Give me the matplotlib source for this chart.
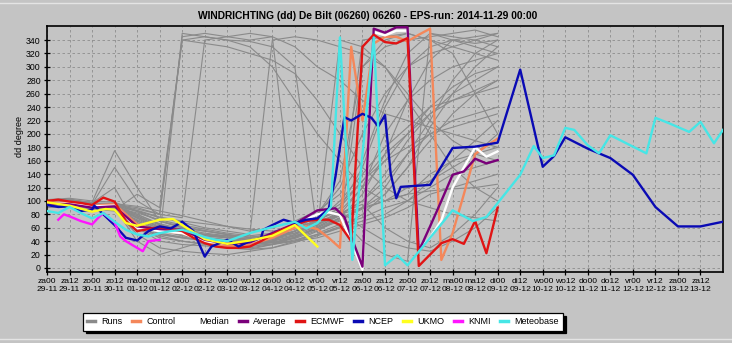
import matplotlib
matplotlib.use("Agg")
import matplotlib.pyplot as plt
from matplotlib.lines import Line2D

# ---------------- data ----------------
tick_labels = ["za00\n29-11", "za12\n29-11", "zo00\n30-11", "zo12\n30-11", "ma00\n01-12", "ma12\n01-12",
               "di00\n02-12", "di12\n02-12", "wo00\n03-12", "wo12\n03-12", "do00\n04-12", "do12\n04-12",
               "vr00\n05-12", "vr12\n05-12", "za00\n06-12", "za12\n06-12", "zo00\n07-12", "zo12\n07-12",
               "ma00\n08-12", "ma12\n08-12", "di00\n09-12", "di12\n09-12", "wo00\n10-12", "wo12\n10-12",
               "do00\n11-12", "do12\n11-12", "vr00\n12-12", "vr12\n12-12", "za00\n13-12", "za12\n13-12"]
yticks = list(range(0, 341, 20))

# ensemble runs: 12-hourly, forecast steps 0..20 (x 12h)
run_steps = list(range(21))
runs = [
    [95, 98, 92, 88, 60, 50, 45, 40, 35, 30, 35, 45, 60, 80, 120, 200, 250, 280, 300, 310, 320],
    [100, 102, 96, 92, 75, 60, 50, 45, 40, 38, 42, 55, 70, 90, 150, 240, 300, 330, 340, 335, 340],
    [92, 95, 90, 86, 110, 90, 340, 345, 340, 330, 300, 250, 200, 160, 120, 100, 110, 140, 160, 170, 180],
    [98, 100, 95, 150, 100, 80, 345, 350, 345, 340, 345, 60, 70, 80, 90, 100, 120, 130, 150, 170, 200],
    [90, 92, 88, 85, 50, 30, 25, 22, 20, 25, 30, 40, 50, 60, 70, 80, 100, 130, 160, 190, 220],
    [102, 104, 100, 98, 85, 70, 60, 55, 50, 45, 50, 60, 80, 120, 200, 260, 300, 320, 330, 340, 350],
    [95, 97, 93, 90, 70, 55, 50, 48, 45, 40, 40, 48, 58, 70, 90, 110, 150, 190, 230, 260, 280],
    [96, 99, 94, 95, 90, 80, 340, 335, 330, 320, 310, 290, 250, 200, 150, 120, 100, 90, 80, 75, 70],
    [93, 95, 90, 88, 65, 45, 40, 35, 30, 28, 35, 50, 70, 100, 140, 180, 210, 240, 250, 260, 270],
    [97, 100, 95, 92, 80, 65, 55, 50, 48, 42, 38, 40, 45, 55, 65, 75, 90, 110, 120, 130, 140],
    [100, 101, 98, 175, 120, 70, 60, 55, 50, 40, 35, 40, 55, 75, 110, 170, 250, 310, 340, 345, 350],
    [94, 96, 92, 90, 40, 20, 30, 40, 38, 35, 40, 55, 80, 130, 300, 340, 350, 340, 330, 320, 310],
    [98, 98, 94, 92, 78, 60, 52, 48, 45, 42, 45, 55, 65, 80, 100, 130, 170, 200, 210, 220, 230],
    [95, 99, 93, 91, 82, 72, 64, 58, 52, 48, 52, 62, 75, 95, 130, 160, 180, 200, 220, 230, 240],
    [91, 94, 90, 87, 60, 40, 35, 33, 30, 28, 30, 38, 48, 60, 80, 110, 150, 210, 260, 300, 330],
    [99, 103, 97, 120, 60, 45, 350, 345, 340, 338, 330, 300, 52, 65, 75, 90, 100, 120, 140, 150, 160],
    [96, 98, 95, 93, 85, 75, 68, 60, 55, 50, 340, 345, 340, 330, 320, 300, 260, 220, 190, 170, 160],
    [94, 97, 91, 88, 72, 58, 52, 46, 42, 40, 42, 50, 62, 78, 340, 345, 350, 340, 320, 260, 200],
    [97, 100, 96, 94, 88, 80, 75, 340, 345, 350, 345, 330, 300, 280, 250, 230, 220, 210, 200, 190, 180],
    [93, 95, 92, 89, 68, 50, 45, 42, 40, 36, 38, 44, 56, 72, 88, 100, 110, 115, 118, 120, 125],
    [100, 100, 97, 96, 92, 85, 78, 70, 62, 55, 60, 70, 85, 110, 160, 250, 320, 350, 345, 340, 330],
    [92, 95, 90, 86, 62, 48, 40, 36, 34, 32, 36, 46, 60, 340, 330, 300, 250, 200, 150, 120, 100],
    [98, 101, 95, 92, 76, 62, 55, 50, 46, 44, 46, 52, 66, 82, 95, 60, 40, 30, 50, 80, 120],
    [95, 97, 93, 90, 74, 58, 50, 45, 42, 38, 40, 48, 60, 75, 40, 20, 10, 350, 340, 330, 320],
    [96, 99, 94, 92, 86, 76, 70, 66, 62, 58, 55, 60, 70, 90, 130, 170, 200, 230, 250, 265, 280],
    [94, 96, 92, 89, 70, 56, 48, 44, 40, 36, 35, 42, 50, 62, 300, 330, 340, 345, 350, 355, 345],
    [97, 100, 95, 93, 80, 66, 58, 52, 48, 46, 48, 55, 65, 85, 120, 160, 200, 240, 270, 290, 300],
    [99, 102, 96, 94, 84, 70, 62, 56, 50, 46, 50, 58, 72, 85, 60, 40, 30, 25, 40, 60, 90],
    [92, 94, 91, 88, 66, 52, 46, 42, 38, 36, 38, 46, 58, 74, 90, 120, 170, 220, 280, 320, 340],
    [95, 98, 93, 91, 78, 64, 56, 50, 46, 42, 44, 52, 64, 80, 100, 140, 190, 230, 260, 280, 300],
]

control_t = [0, 1, 2, 3, 4, 5, 6, 7, 8, 9, 10, 11, 11.5, 12, 12.5, 13, 13.5, 14, 14.5, 15, 15.5, 16, 16.5, 17, 17.5, 18, 18.5, 19, 19.5, 20]
control_v = [98, 97, 93, 95, 65, 55, 52, 40, 33, 35, 45, 60, 62, 58, 45, 30, 330, 220, 335, 345, 345, 338, 348, 357, 12, 52, 110, 170, 182, 193]

median_t = [0, 1, 2, 3, 4, 5, 6, 7, 8, 9, 10, 11, 12, 12.5, 13, 13.5, 14, 14.5, 15, 15.5, 16, 16.5, 17, 17.5, 18, 18.5, 19, 19.5, 20]
median_v = [96, 96, 92, 93, 60, 55, 52, 40, 36, 38, 50, 64, 80, 83, 79, 40, -3, 352, 347, 354, 354, 27, 45, 71, 120, 150, 180, 166, 174]

average_t = [0, 1, 2, 3, 4, 5, 6, 7, 8, 9, 10, 11, 12, 12.8, 13.2, 13.5, 14, 14.5, 15, 15.5, 16, 16.5, 17, 17.5, 18, 18.5, 19, 19.5, 20]
average_v = [96, 95, 90, 92, 62, 58, 57, 42, 36, 38, 52, 66, 86, 89, 76, 47, 2, 357, 351, 359, 359, 25, 62, 100, 139, 144, 163, 156, 161]

ecmwf_t = [0, 0.5, 1, 1.5, 2, 2.5, 3, 3.5, 4, 4.5, 5, 5.5, 6, 6.5, 7, 7.5, 8, 8.5, 9, 9.5, 10, 10.5, 11, 11.5, 12, 12.5, 13, 13.5, 14, 14.5, 15, 15.5, 16, 16.5, 17, 17.5, 18, 18.5, 19, 19.5, 20]
ecmwf_v = [100, 102, 99, 97, 94, 105, 99, 70, 55, 58, 61, 58, 55, 45, 37, 32, 30, 30, 32, 40, 50, 58, 64, 70, 72, 72, 64, 40, 330, 348, 337, 335, 343, 3, 20, 37, 43, 36, 70, 22, 90]

ncep_t = [0, 0.5, 1, 1.5, 2, 2.1, 2.5, 3, 3.5, 4, 4.5, 5, 5.5, 6, 6.5, 7, 7.3, 8, 8.5, 9, 9.5, 9.6, 10, 10.5, 11, 11.5, 12, 12.5, 12.8, 13.2, 13.5, 14, 14.4, 14.7, 15, 15.25, 15.5, 15.7, 17, 18, 19, 20, 21, 22, 22.5, 23, 24, 25, 26, 27, 28, 29, 30]
ncep_v = [94, 91, 92, 85, 87, 93, 80, 64, 45, 41, 55, 62, 59, 69, 55, 17, 32, 42, 32, 40, 45, 57, 64, 72, 67, 72, 74, 88, 136, 225, 220, 230, 224, 211, 228, 141, 104, 121, 124, 179, 181, 187, 296, 151, 167, 195, 178, 164, 139, 91, 62, 62, 69]

ukmo_t = [0, 1, 2, 2.6, 3, 3.5, 4, 5, 5.6, 6, 7, 8, 9, 10, 11, 12]
ukmo_v = [98, 93, 84, 88, 87, 67, 63, 72, 73, 64, 43, 36, 41, 48, 64, 32]

knmi_t = [0.5, 0.75, 1, 1.5, 2, 2.25, 2.5, 3, 3.25, 3.5, 4, 4.25, 4.5, 5]
knmi_v = [72, 80, 77, 70, 65, 74, 82, 68, 47, 40, 30, 25, 40, 42]

meteo_t = [0, 0.5, 1, 1.5, 2, 2.5, 3, 3.5, 4, 4.5, 5, 5.5, 6, 6.5, 7, 7.5, 8, 8.5, 9, 10, 11, 11.5, 12, 12.6, 13, 13.55, 14.5, 15, 15.55, 16, 17, 18, 18.9, 19.5, 20.1, 21, 21.6, 22, 22.5, 23, 23.4, 24, 24.5, 25, 26.6, 27, 27.6, 28.5, 29, 29.6, 30]
meteo_v = [85, 82, 91, 82, 74, 82, 69, 57, 50, 47, 52, 55, 57, 52, 46, 42, 40, 46, 52, 61, 69, 59, 67, 91, 344, 12, 344, 4, 19, 4, 45, 86, 70, 76, 101, 139, 182, 164, 168, 209, 206, 183, 171, 198, 171, 224, 216, 203, 218, 186, 206]

# ---------------- plot ----------------
BG = "#c4c4c4"
FONT = ["Liberation Sans Narrow", "Liberation Sans", "DejaVu Sans"]
plt.rcParams["font.family"] = FONT

fig = plt.figure(figsize=(7.32, 3.43), dpi=100, facecolor=BG)
ax = fig.add_axes([47 / 732, 1 - 272 / 343, 676 / 732, 246 / 343])
ax.set_facecolor(BG)

for r in runs:
    ax.plot(run_steps, r, color="#8a8a8a", lw=0.8, zorder=2)

series = [
    (control_t, control_v, "#f4875a", "Control"),
    (median_t, median_v, "#ffffff", "Median"),
    (average_t, average_v, "#7a007a", "Average"),
    (ecmwf_t, ecmwf_v, "#e01414", "ECMWF"),
    (ncep_t, ncep_v, "#0a0ab4", "NCEP"),
    (ukmo_t, ukmo_v, "#ffff1e", "UKMO"),
    (knmi_t, knmi_v, "#ff14ff", "KNMI"),
    (meteo_t, meteo_v, "#46e6e6", "Meteobase"),
]
for i, (t, v, c, lab) in enumerate(series):
    ax.plot(t, v, color=c, lw=1.7, zorder=3 + i)

ax.set_xlim(0, 30)
ax.set_ylim(-6, 361)
ax.set_xticks(range(len(tick_labels)))
ax.set_xticklabels(tick_labels, fontsize=6.1, linespacing=1.1)
ax.set_yticks(yticks)
ax.set_yticklabels([str(y) for y in yticks], fontsize=6.3)
ax.tick_params(axis="both", direction="inout", length=5, width=0.9, color="black", pad=2)
ax.grid(True, color="#8c8c8c", lw=0.6, linestyle=(0, (3, 3)))
ax.set_axisbelow(True)
for s in ax.spines.values():
    s.set_linewidth(1.2)
    s.set_color("black")

ax.set_ylabel("dd degree", fontsize=6.5)
ax.yaxis.set_label_coords(-0.034, 0.55)

fig.text(368 / 732, 1 - 16 / 343, "WINDRICHTING (dd) De Bilt (06260) 06260 - EPS-run: 2014-11-29 00:00",
         ha="center", va="center", fontsize=7.4, fontweight="bold", family=["Liberation Sans", "DejaVu Sans"])

handles = [Line2D([], [], color="#8a8a8a", lw=2.5)] + [Line2D([], [], color=c, lw=2.5) for (_, _, c, _) in series]
labels = ["Runs"] + [s[3] for s in series]
leg = fig.legend(handles, labels, ncol=9, loc="center", bbox_to_anchor=(323 / 732, 1 - 322 / 343),
                 fontsize=6.5, frameon=True, fancybox=False, shadow={"color": "black", "alpha": 1},
                 edgecolor="black", facecolor="white", framealpha=1, handlelength=0.9,
                 handletextpad=0.7, columnspacing=1.05, borderpad=0.45)
leg.get_frame().set_linewidth(0.9)

fig.add_artist(Line2D([0, 1], [1 - 3 / 343, 1 - 3 / 343], color="#e4e4e4", lw=1))
fig.add_artist(Line2D([0, 1], [1 - 339 / 343, 1 - 339 / 343], color="#e4e4e4", lw=1))

fig.savefig("out.png", dpi=100, facecolor=BG)
